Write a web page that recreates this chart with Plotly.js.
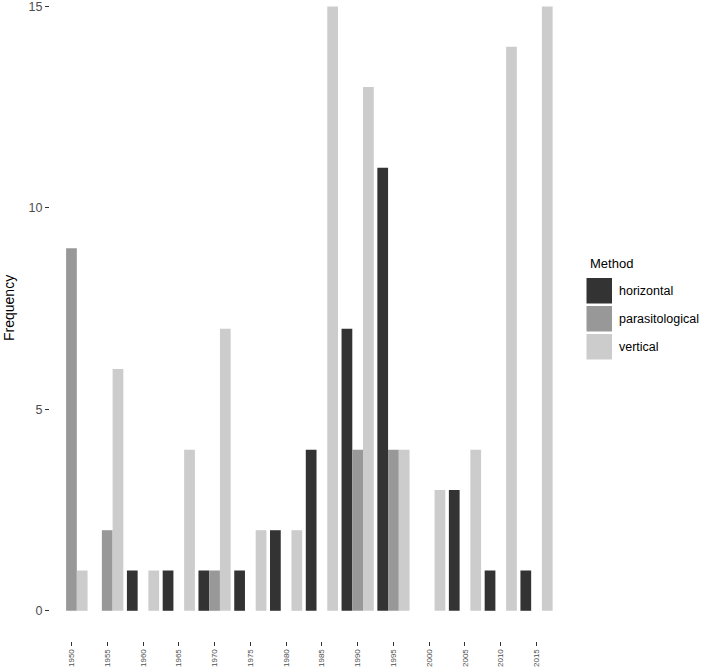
<!DOCTYPE html>
<html>
<head>
<meta charset="utf-8">
<script src="https://cdn.plot.ly/plotly-3.0.1.min.js"></script>
<style>
  body { margin: 0; background: #fff; }
  #chart { width: 708px; height: 669px; }
</style>
</head>
<body>
<div id="chart"></div>
<script>
// year bins on the x axis
let years = ["1950", "1955", "1960", "1965", "1970", "1975", "1980",
             "1985", "1990", "1995", "2000", "2005", "2010", "2015"];

// frequency per method, one value per year bin
let horizontal      = [0, 0, 1, 1, 1, 1, 2, 4, 7, 11, 0, 3, 1, 1];
let parasitological = [9, 2, 0, 0, 1, 0, 0, 0, 4, 4, 0, 0, 0, 0];
let vertical        = [1, 6, 1, 4, 7, 2, 2, 15, 13, 4, 3, 4, 14, 15];

let methods = ["horizontal", "parasitological", "vertical"];
let series  = [horizontal, parasitological, vertical];
let colors  = ["#333333", "#989898", "#cccccc"];

// page size and plot margins (pixels)
const W = 708, H = 669;
const mL = 50, mR = 150, mT = 0, mB = 28;
const pw = W - mL - mR, ph = H - mT - mB;

// pixel -> paper helpers for the hand-made legend and y title
function px(x) { return (x - mL) / pw; }
function py(y) { return 1 - (y - mT) / ph; }

let font = "Liberation Sans, Arial, sans-serif";

// one bar trace per method
let data = [];
for (let i = 0; i < methods.length; i++) {
    data.push({
        x: years,
        y: series[i],
        name: methods[i],
        type: "bar",
        marker: { color: colors[i], line: { width: 0 } },
        hoverinfo: "x+y+name"
    });
}

// legend drawn as shapes + annotations so the keys match the big squares
let shapes = [];
let annotations = [{
    text: "Method", xref: "paper", yref: "paper",
    x: px(588), y: py(263), xanchor: "left", yanchor: "middle",
    showarrow: false, font: { family: font, size: 13, color: "#000" }
}];
for (let i = 0; i < methods.length; i++) {
    let top = 278 + 28 * i;
    shapes.push({
        type: "rect", xref: "paper", yref: "paper",
        x0: px(586.5), x1: px(612), y0: py(top), y1: py(top + 25.5),
        fillcolor: colors[i], line: { width: 0 }
    });
    annotations.push({
        text: methods[i], xref: "paper", yref: "paper",
        x: px(617), y: py(top + 13), xanchor: "left", yanchor: "middle",
        showarrow: false, font: { family: font, size: 12.5, color: "#000" }
    });
}

// y axis title placed by hand (the panel top is cropped in the original)
annotations.push({
    text: "Frequency", xref: "paper", yref: "paper",
    x: px(9), y: py(308), xanchor: "center", yanchor: "middle",
    textangle: -90, showarrow: false,
    font: { family: font, size: 14, color: "#000" }
});

let layout = {
    width: W,
    height: H,
    margin: { l: mL, r: mR, t: mT, b: mB, pad: 0 },
    paper_bgcolor: "#ffffff",
    plot_bgcolor: "#ffffff",
    barmode: "group",
    bargap: 0.1,
    bargroupgap: 0,
    showlegend: false,
    font: { family: font },
    xaxis: {
        type: "category",
        range: [-0.6, 13.6],
        showgrid: false,
        zeroline: false,
        showline: false,
        ticks: "outside",
        ticklen: 4,
        tickwidth: 1,
        tickcolor: "#333333",
        tickangle: -90,
        tickfont: { family: font, size: 8, color: "#4d4d4d" }
    },
    yaxis: {
        range: [-0.75, 15.161],
        tickvals: [0, 5, 10, 15],
        showgrid: false,
        zeroline: false,
        showline: false,
        ticks: "outside",
        ticklen: 4,
        tickwidth: 1,
        tickcolor: "#333333",
        ticklabeloverflow: "allow",
        tickfont: { family: font, size: 12.5, color: "#4d4d4d" }
    },
    shapes: shapes,
    annotations: annotations
};

Plotly.newPlot("chart", data, layout, { displayModeBar: false });
</script>
</body>
</html>
